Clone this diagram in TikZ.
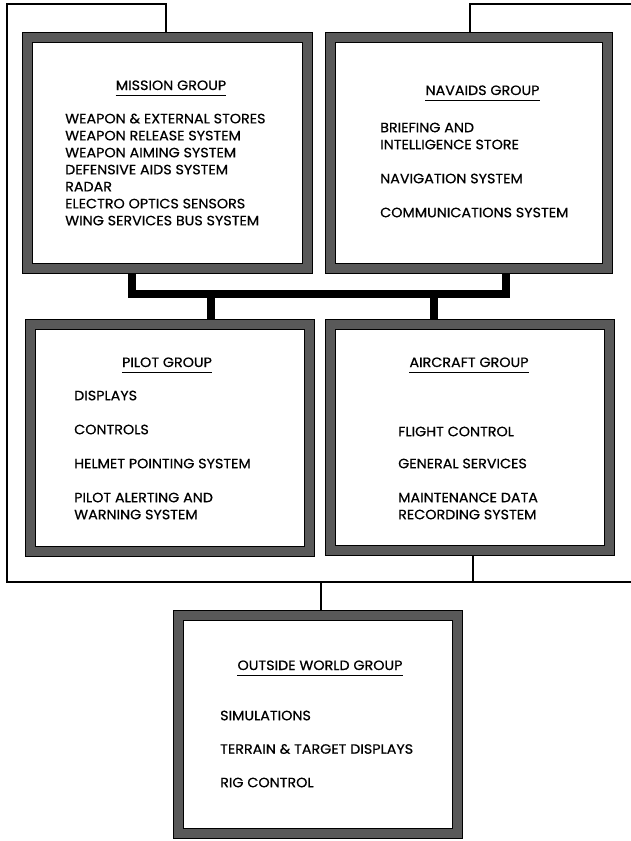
\documentclass[tikz,border=0pt]{standalone}
\usepackage{fontspec}
\setmainfont{Poppins}[FakeStretch=1.06,FakeBold=0.6]
\usetikzlibrary{backgrounds}
\begin{document}
\begin{tikzpicture}[x=1pt,y=-1pt,
  grp/.style={draw=black, line width=1.2pt, double=black!65, double distance=8.8pt, fill=white, inner sep=0pt, rectangle},
  bus/.style={line width=8pt, black},
  wire/.style={line width=1.2pt, black},
  ttl/.style={font=\fontsize{13.5}{17}\selectfont, anchor=base, inner sep=0pt},
  itm/.style={font=\fontsize{13.5}{17}\selectfont, align=left, anchor=north west, inner sep=0pt},
  uline/.style={line width=1.4pt}]
\useasboundingbox (0,0) rectangle (631,841);

% group boxes
\node[grp, minimum width=280pt, minimum height=231pt] (mission)  at (167.5,153) {};
\node[grp, minimum width=277pt, minimum height=231pt] (navaids)  at (469,153) {};
\node[grp, minimum width=279pt, minimum height=227pt] (pilot)    at (170,438) {};
\node[grp, minimum width=279pt, minimum height=226pt] (aircraft) at (470,437.5) {};
\node[grp, minimum width=279pt, minimum height=218pt] (outside)  at (318,724.5) {};

% titles
\node[ttl] (mt) at (171,90)  {MISSION GROUP};
\node[ttl] (nt) at (482.5,95) {NAVAIDS GROUP};
\node[ttl] (pt) at (167,367) {PILOT GROUP};
\node[ttl] (at) at (469,367) {AIRCRAFT GROUP};
\node[ttl] (ot) at (320,670) {OUTSIDE WORLD GROUP};
\foreach \t in {mt,nt,pt,at,ot}
  \draw[uline] ([yshift=-5.5pt]\t.base west) -- ([yshift=-5.5pt]\t.base east);

% items
\node[itm] (mi) at (65,113.5) {WEAPON \& EXTERNAL STORES\\WEAPON RELEASE SYSTEM\\WEAPON AIMING SYSTEM\\DEFENSIVE AIDS SYSTEM\\RADAR\\ELECTRO OPTICS SENSORS\\WING SERVICES BUS SYSTEM};
\node[itm] (ni) at (380,122.5) {BRIEFING AND\\INTELLIGENCE STORE\\[17pt]NAVIGATION SYSTEM\\[17pt]COMMUNICATIONS SYSTEM};
\node[itm] (pi) at (74,390.5) {DISPLAYS\\[17pt]CONTROLS\\[17pt]HELMET POINTING SYSTEM\\[17pt]PILOT ALERTING AND\\WARNING SYSTEM};
\node[itm] (ai) at (398,426.5) {FLIGHT CONTROL\\[15pt]GENERAL SERVICES\\[17pt]MAINTENANCE DATA\\RECORDING SYSTEM};
\node[itm] (oi) at (220,710.5) {SIMULATIONS\\[16.5pt]TERRAIN \& TARGET DISPLAYS\\[16.5pt]RIG CONTROL};

% connection points
\coordinate (busL) at (132,294);
\coordinate (busR) at (506,294);
\coordinate (dropP) at (211,294);
\coordinate (dropA) at (434,294);
\coordinate (m1) at (166,4);
\coordinate (lt) at (7,4);
\coordinate (lb) at (7,582);
\coordinate (rb) at (631,582);
\coordinate (n1) at (470,4);
\coordinate (rt) at (631,4);
\coordinate (ab) at (473,582);
\coordinate (ob) at (321,582);

\begin{scope}[on background layer]
  \draw[bus] (mission.south -| busL) -- (busL) -- (busR) -- (navaids.south -| busR);
  \draw[bus] (dropP) -- (pilot.north -| dropP);
  \draw[bus] (dropA) -- (aircraft.north -| dropA);
  \draw[wire] (mission.north -| m1) -- (m1) -- (lt) -- (lb) -- (rb);
  \draw[wire] (navaids.north -| n1) -- (n1) -- (rt);
  \draw[wire] (aircraft.south -| ab) -- (ab);
  \draw[wire] (ob) -- (outside.north -| ob);
\end{scope}
\end{tikzpicture}
\end{document}
